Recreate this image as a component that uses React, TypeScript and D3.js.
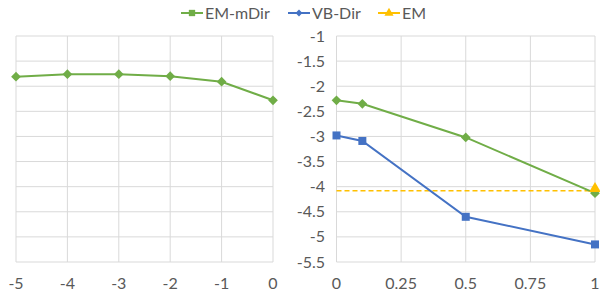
import React, { useRef, useEffect } from 'react';
import * as d3 from 'd3';

// left panel: EM-mDir along negative x
const leftX = [-5, -4, -3, -2, -1, 0];
const leftEmMDir = [-1.81, -1.76, -1.76, -1.8, -1.91, -2.28];

// right panel
const rightX = [0, 0.1, 0.5, 1];
const rightEmMDir = [-2.28, -2.35, -3.02, -4.13];
const rightVbDir = [-2.98, -3.09, -4.6, -5.15];
const emValue = -4.08;

const yTicks = [-1, -1.5, -2, -2.5, -3, -3.5, -4, -4.5, -5, -5.5];
const leftXTicks = [-5, -4, -3, -2, -1, 0];
const rightXTicks = [0, 0.25, 0.5, 0.75, 1];

const GREEN = '#70AD47';
const BLUE = '#4472C4';
const YELLOW = '#FFC000';
const GRID = '#D9D9D9';
const TEXT = '#595959';
const FONT = 'Lato, "Open Sans", sans-serif';

const App = () => {
  const svgRef = useRef<SVGSVGElement>(null);

  useEffect(() => {
    const svg = d3.select(svgRef.current);
    svg.selectAll('*').remove();

    const y = d3.scaleLinear().domain([-5.5, -1]).range([262, 36]);
    const xL = d3.scaleLinear().domain([-5, 0]).range([16, 273]);
    const xR = d3.scaleLinear().domain([0, 1]).range([336.5, 595]);

    const grid = (x: d3.ScaleLinear<number, number>, xt: number[]) => {
      const g = svg.append('g');
      g.selectAll('.h').data(yTicks).enter().append('line')
        .attr('x1', x.range()[0]).attr('x2', x.range()[1])
        .attr('y1', d => y(d)).attr('y2', d => y(d))
        .attr('stroke', GRID).attr('stroke-width', 1);
      g.selectAll('.v').data(xt).enter().append('line')
        .attr('x1', d => x(d)).attr('x2', d => x(d))
        .attr('y1', y(-1)).attr('y2', y(-5.5))
        .attr('stroke', GRID).attr('stroke-width', 1);
      g.selectAll('text').data(xt).enter().append('text')
        .attr('x', d => x(d)).attr('y', 289)
        .attr('text-anchor', 'middle')
        .attr('font-family', FONT).attr('font-size', 16).attr('fill', TEXT)
        .text(d => String(d));
    };
    grid(xL, leftXTicks);
    grid(xR, rightXTicks);

    // right panel y labels
    svg.append('g').selectAll('text').data(yTicks).enter().append('text')
      .attr('x', 325).attr('y', d => y(d) + 5.5)
      .attr('text-anchor', 'end')
      .attr('font-family', FONT).attr('font-size', 16).attr('fill', TEXT)
      .text(d => String(d));

    const diamond = d3.symbol().type(d3.symbolDiamond2).size(60);
    const square = d3.symbol().type(d3.symbolSquare).size(64);
    const triangle = d3.symbol().type(d3.symbolTriangle).size(60);

    const series = (xs: number[], ys: number[], x: d3.ScaleLinear<number, number>, color: string, sym: any) => {
      const pts = xs.map((v, i) => [x(v), y(ys[i])] as [number, number]);
      svg.append('path').attr('d', d3.line()(pts)!)
        .attr('fill', 'none').attr('stroke', color).attr('stroke-width', 2);
      svg.append('g').selectAll('path').data(pts).enter().append('path')
        .attr('d', sym)
        .attr('transform', d => `translate(${d[0]},${d[1]})`)
        .attr('fill', color);
    };

    // EM dashed line
    svg.append('line')
      .attr('x1', xR(0)).attr('x2', xR(1))
      .attr('y1', y(emValue)).attr('y2', y(emValue))
      .attr('stroke', YELLOW).attr('stroke-width', 1.5).attr('stroke-dasharray', '5,3');

    series(leftX, leftEmMDir, xL, GREEN, diamond);
    series(rightX, rightVbDir, xR, BLUE, square);
    series(rightX, rightEmMDir, xR, GREEN, diamond);
    svg.append('path').attr('d', triangle)
      .attr('transform', `translate(${xR(1)},${y(emValue) - 2})`)
      .attr('fill', YELLOW);

    // legend
    const legend = [
      { name: 'EM-mDir', color: GREEN, sym: d3.symbol().type(d3.symbolSquare).size(40), x: 181 },
      { name: 'VB-Dir', color: BLUE, sym: d3.symbol().type(d3.symbolDiamond2).size(30), x: 288 },
      { name: 'EM', color: YELLOW, sym: d3.symbol().type(d3.symbolTriangle).size(36), x: 378 },
    ];
    const lg = svg.append('g');
    legend.forEach(l => {
      lg.append('line').attr('x1', l.x).attr('x2', l.x + 22)
        .attr('y1', 13).attr('y2', 13).attr('stroke', l.color).attr('stroke-width', 2);
      lg.append('path').attr('d', l.sym).attr('transform', `translate(${l.x + 11},13)`).attr('fill', l.color);
      lg.append('text').attr('x', l.x + 24).attr('y', 19)
        .attr('font-family', FONT).attr('font-size', 16).attr('fill', TEXT)
        .text(l.name);
    });
  }, []);

  return (
    <div style={{ position: 'absolute', left: 0, top: 0 }}>
      <svg ref={svgRef} width={600} height={298} style={{ display: 'block', background: '#fff' }}></svg>
    </div>
  );
};

export default App;
